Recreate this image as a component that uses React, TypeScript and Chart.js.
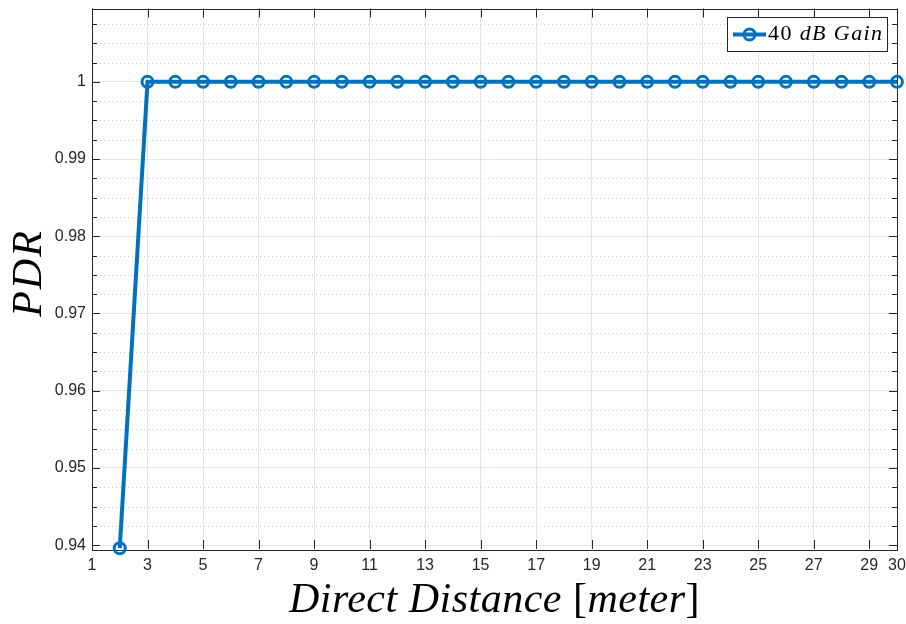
import React, { useEffect, useRef } from "react";
import { Chart, registerables } from "chart.js";

Chart.register(...registerables);

// ---- data ----
const distances = [2, 3, 4, 5, 6, 7, 8, 9, 10, 11, 12, 13, 14, 15, 16, 17, 18, 19, 20, 21, 22, 23, 24, 25, 26, 27, 28, 29, 30];
const pdr = [0.9396, 1, 1, 1, 1, 1, 1, 1, 1, 1, 1, 1, 1, 1, 1, 1, 1, 1, 1, 1, 1, 1, 1, 1, 1, 1, 1, 1, 1];
const xTicks = [1, 3, 5, 7, 9, 11, 13, 15, 17, 19, 21, 23, 25, 27, 29, 30];
const yTicks = [0.94, 0.95, 0.96, 0.97, 0.98, 0.99, 1];
const yTickLabels = ["0.94", "0.95", "0.96", "0.97", "0.98", "0.99", "1"];
const yMinorStep = 0.0025;
const xRange = [1, 30];
const yRange = [0.9395, 1.0095];
const legendParts = ["40 ", "dB Gain"];
const xTitleParts = [
  { t: "Direct Distance ", italic: true },
  { t: "[", italic: false },
  { t: "meter", italic: true },
  { t: "]", italic: false },
];
const yTitle = "PDR";

const BLUE = "#0072BD";
const AXIS = "#262626";
const SERIF = "'Liberation Serif', 'DejaVu Serif', serif";
const SANS = "'Liberation Sans', Arial, sans-serif";

const decorPlugin = {
  id: "decor",
  beforeDatasetsDraw(chart: any) {
    const ctx = chart.ctx as CanvasRenderingContext2D;
    const { left, right, top, bottom } = chart.chartArea;
    const xs = chart.scales.x;
    const ys = chart.scales.y;
    ctx.save();
    // minor dotted y grid
    ctx.strokeStyle = "#c9c9c9";
    ctx.lineWidth = 1;
    ctx.setLineDash([1, 3]);
    const minorVals: number[] = [];
    for (let k = Math.ceil(yRange[0] / yMinorStep); k * yMinorStep <= yRange[1] + 1e-9; k++) {
      const v = k * yMinorStep;
      if (Math.abs(Math.round(v * 100) - v * 100) < 1e-6) continue;
      minorVals.push(v);
    }
    minorVals.forEach((v) => {
      const y = Math.round(ys.getPixelForValue(v)) + 0.5;
      ctx.beginPath();
      ctx.moveTo(left, y);
      ctx.lineTo(right, y);
      ctx.stroke();
    });
    ctx.setLineDash([]);
    // frame
    ctx.strokeStyle = AXIS;
    ctx.lineWidth = 1;
    ctx.strokeRect(Math.round(left) + 0.5, Math.round(top) + 0.5, Math.round(right - left), Math.round(bottom - top));
    // x ticks
    xTicks.forEach((v) => {
      const x = Math.round(xs.getPixelForValue(v)) + 0.5;
      ctx.beginPath();
      ctx.moveTo(x, bottom);
      ctx.lineTo(x, bottom - 9);
      ctx.moveTo(x, top);
      ctx.lineTo(x, top + 9);
      ctx.stroke();
    });
    // y ticks
    yTicks.forEach((v) => {
      const y = Math.round(ys.getPixelForValue(v)) + 0.5;
      ctx.beginPath();
      ctx.moveTo(left, y);
      ctx.lineTo(left + 8, y);
      ctx.moveTo(right, y);
      ctx.lineTo(right - 8, y);
      ctx.stroke();
    });
    minorVals.forEach((v) => {
      const y = Math.round(ys.getPixelForValue(v)) + 0.5;
      ctx.beginPath();
      ctx.moveTo(left, y);
      ctx.lineTo(left + 5, y);
      ctx.moveTo(right, y);
      ctx.lineTo(right - 5, y);
      ctx.stroke();
    });
    ctx.restore();
  },
  afterDatasetsDraw(chart: any) {
    const ctx = chart.ctx as CanvasRenderingContext2D;
    const { left, right } = chart.chartArea;
    ctx.save();
    // legend
    const bx = 727.5, by = 17.5, bw = 160, bh = 34;
    ctx.fillStyle = "#ffffff";
    ctx.fillRect(bx, by, bw, bh);
    ctx.strokeStyle = AXIS;
    ctx.lineWidth = 1;
    ctx.strokeRect(bx, by, bw, bh);
    const ly = by + bh / 2;
    ctx.strokeStyle = BLUE;
    ctx.lineWidth = 4;
    ctx.beginPath();
    ctx.moveTo(733, ly);
    ctx.lineTo(766, ly);
    ctx.stroke();
    ctx.lineWidth = 3;
    ctx.beginPath();
    ctx.arc(749.5, ly, 5.5, 0, Math.PI * 2);
    ctx.stroke();
    ctx.fillStyle = "#000000";
    ctx.textBaseline = "alphabetic";
    ctx.textAlign = "left";
    (ctx as any).letterSpacing = "1.4px";
    let tx = 768;
    ctx.font = `22px ${SERIF}`;
    ctx.fillText(legendParts[0], tx, 40);
    tx += ctx.measureText(legendParts[0]).width;
    ctx.font = `italic 22px ${SERIF}`;
    ctx.fillText(legendParts[1], tx, 40);
    (ctx as any).letterSpacing = "0px";

    // x title
    const fs = 42;
    (ctx as any).letterSpacing = "0.5px";
    let total = 0;
    xTitleParts.forEach((p) => {
      ctx.font = `${p.italic ? "italic " : ""}${fs}px ${SERIF}`;
      total += ctx.measureText(p.t).width;
    });
    let x = (left + right) / 2 - total / 2;
    ctx.fillStyle = "#000000";
    xTitleParts.forEach((p) => {
      ctx.font = `${p.italic ? "italic " : ""}${fs}px ${SERIF}`;
      ctx.fillText(p.t, x, 612);
      x += ctx.measureText(p.t).width;
    });

    // y title
    ctx.save();
    (ctx as any).letterSpacing = "2px";
    ctx.translate(41, 273);
    ctx.rotate(-Math.PI / 2);
    ctx.font = `italic 42px ${SERIF}`;
    ctx.textAlign = "center";
    ctx.fillText(yTitle, 0, 0);
    ctx.restore();
    ctx.restore();
  },
};

export default function App() {
  const ref = useRef<HTMLCanvasElement | null>(null);
  useEffect(() => {
    if (!ref.current) return;
    const chart = new Chart(ref.current, {
      type: "line",
      data: {
        datasets: [
          {
            label: legendParts.join(""),
            data: distances.map((d, i) => ({ x: d, y: pdr[i] })),
            borderColor: BLUE,
            borderWidth: 4,
            pointRadius: 5.5,
            pointHoverRadius: 5.5,
            pointBorderWidth: 3,
            pointBorderColor: BLUE,
            pointBackgroundColor: "rgba(255,255,255,0)",
            tension: 0,
            clip: false as any,
          },
        ],
      },
      options: {
        animation: false,
        responsive: false,
        devicePixelRatio: 1,
        layout: { padding: { top: 5, right: 9, left: 0, bottom: 0 } },
        plugins: { legend: { display: false }, tooltip: { enabled: false }, title: { display: false } },
        scales: {
          x: {
            type: "linear",
            min: xRange[0],
            max: xRange[1],
            afterBuildTicks: (s: any) => {
              s.ticks = xTicks.map((v) => ({ value: v }));
            },
            afterFit: (s: any) => {
              s.height = 75;
              s.paddingLeft = 0;
              s.paddingRight = 0;
            },
            ticks: {
              autoSkip: false,
              maxRotation: 0,
              padding: 7,
              color: AXIS,
              font: { family: SANS, size: 16 },
              callback: (v: any) => String(v),
            },
            grid: { color: "#e4e4e4", drawTicks: false, lineWidth: 1 },
            border: { display: false },
          },
          y: {
            type: "linear",
            min: yRange[0],
            max: yRange[1],
            afterBuildTicks: (s: any) => {
              s.ticks = yTicks.map((v) => ({ value: v }));
            },
            afterFit: (s: any) => {
              s.width = 92;
              s.paddingTop = 0;
              s.paddingBottom = 0;
            },
            ticks: {
              autoSkip: false,
              padding: 6,
              color: AXIS,
              font: { family: SANS, size: 16, lineHeight: 0.1 },
              callback: (_v: any, i: number) => yTickLabels[i],
            },
            grid: { color: "#e4e4e4", drawTicks: false, lineWidth: 1 },
            border: { display: false },
          },
        },
      },
      plugins: [decorPlugin],
    });
    return () => chart.destroy();
  }, []);
  return (
    <div style={{ position: "absolute", left: 0, top: 0, width: 906, height: 624, background: "#fff" }}>
      <canvas ref={ref} width={906} height={624} style={{ display: "block" }} />
    </div>
  );
}
